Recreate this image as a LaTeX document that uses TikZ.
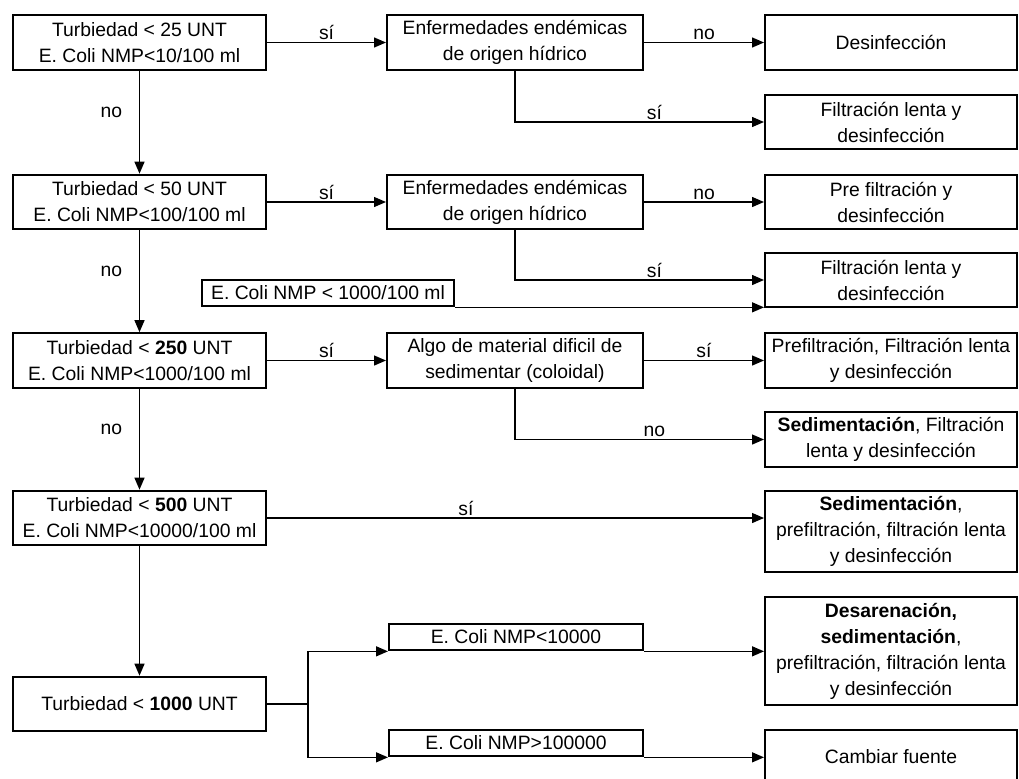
\documentclass[tikz,border=0pt]{standalone}
\usepackage{fontspec}
\setmainfont{Liberation Sans}
\usepackage{tikz}
\usetikzlibrary{arrows.meta,calc}

\begin{document}
\begin{tikzpicture}[x=0.75pt, y=-0.75pt,
  font=\fontsize{14.5}{19.5}\selectfont,
  box/.style={draw, line width=1.5pt, align=center, inner sep=1pt,
    minimum width=190pt, minimum height=41pt},
  thinbox/.style={box, minimum height=20pt},
  link/.style={line width=1pt},
  arr/.style={link, -{Triangle[length=9pt,width=7.5pt]}},
  lbl/.style={inner sep=1.5pt}]
  \useasboundingbox (0,0) rectangle (1019,778);

  % left column
  \node[box] (t25) at (139.5,42.5) {Turbiedad < 25 UNT\\E. Coli NMP<10/100 ml};
  \node[box] (t50) at (139.5,202) {Turbiedad < 50 UNT\\E. Coli NMP<100/100 ml};
  \node[box] (t250) at (139.5,360.5) {Turbiedad < \textbf{250} UNT\\E. Coli NMP<1000/100 ml};
  \node[box] (t500) at (139.5,518) {Turbiedad < \textbf{500} UNT\\E. Coli NMP<10000/100 ml};
  \node[box] (t1000) at (139.5,704) {Turbiedad < \textbf{1000} UNT};

  % middle column
  \node[box, minimum width=192pt] (e1) at (515,42.5) {Enfermedades endémicas\\de origen hídrico};
  \node[box, minimum width=192pt] (e2) at (515,202) {Enfermedades endémicas\\de origen hídrico};
  \node[box, minimum width=192pt] (a3) at (515,360.5) {Algo de material dificil de\\sedimentar (coloidal)};
  \node[thinbox, minimum width=189pt] (c0) at (328,293) {E. Coli NMP < 1000/100 ml};
  \node[thinbox, minimum width=190.5pt] (c1) at (516,637) {E. Coli NMP<10000};
  \node[thinbox, minimum width=190.5pt] (c2) at (516,743) {E. Coli NMP>100000};

  % treatments
  \node[box, minimum width=189pt] (r1) at (891,42.5) {Desinfección};
  \node[box, minimum width=189pt] (r2) at (891,122) {Filtración lenta y\\desinfección};
  \node[box, minimum width=189pt] (r3) at (891,202) {Pre filtración y\\desinfección};
  \node[box, minimum width=189pt] (r4) at (891,280) {Filtración lenta y\\desinfección};
  \node[box, minimum width=189pt] (r5) at (891,360.5) {Prefiltración, Filtración lenta\\y desinfección};
  \node[box, minimum width=189pt] (r6) at (891,439.5) {\textbf{Sedimentación}, Filtración\\lenta y desinfección};
  \node[box, minimum width=189pt, minimum height=61pt] (r7) at (891,531.5)
    {\textbf{Sedimentación},\\prefiltración, filtración lenta\\y desinfección};
  \node[box, minimum width=189pt, minimum height=81pt] (r8) at (891,651)
    {\textbf{Desarenación,}\\\textbf{sedimentación},\\prefiltración, filtración lenta\\y desinfección};
  \node[box, minimum width=189pt, minimum height=40.5pt] (r9) at (891,757) {Cambiar fuente};
  \coordinate (split) at (308,704);

  \foreach \a/\b in {t25/t50,t50/t250,t250/t500}
    \draw[arr] (\a) -- node[lbl,left=11pt,pos=0.4]{no} (\b);
  \draw[arr] (t500) -- (t1000);

  \foreach \a/\b in {t25/e1,t50/e2,t250/a3}
    \draw[arr] (\a.east) -- node[lbl,above]{sí} (\b.west);
  \draw[arr] (e1.east) -- node[lbl,above]{no} (r1.west);
  \draw[arr] (e2.east) -- node[lbl,above]{no} (r3.west);
  \draw[arr] (a3.east) -- node[lbl,above]{sí} (r5.west);

  \foreach \m/\r/\t in {e1/r2/sí,e2/r4/sí,a3/r6/no}
    \draw[arr] (\m.south) |- node[lbl,above,pos=0.78]{\t} (\r.west);

  \draw[arr] (c0.south east) -- (c0.south east -| r4.west);
  \draw[arr] (t500.east) -- node[lbl,above,pos=0.4]{sí} (t500.east -| r7.west);

  \draw[link] (t1000.east) -- (split);
  \draw[arr] (split) |- (c1.south west);
  \draw[arr] (split) |- (c2.south west);
  \draw[arr] (c1.south east) -- (c1.south east -| r8.west);
  \draw[arr] (c2.south east) -- (c2.south east -| r9.west);
\end{tikzpicture}
\end{document}
